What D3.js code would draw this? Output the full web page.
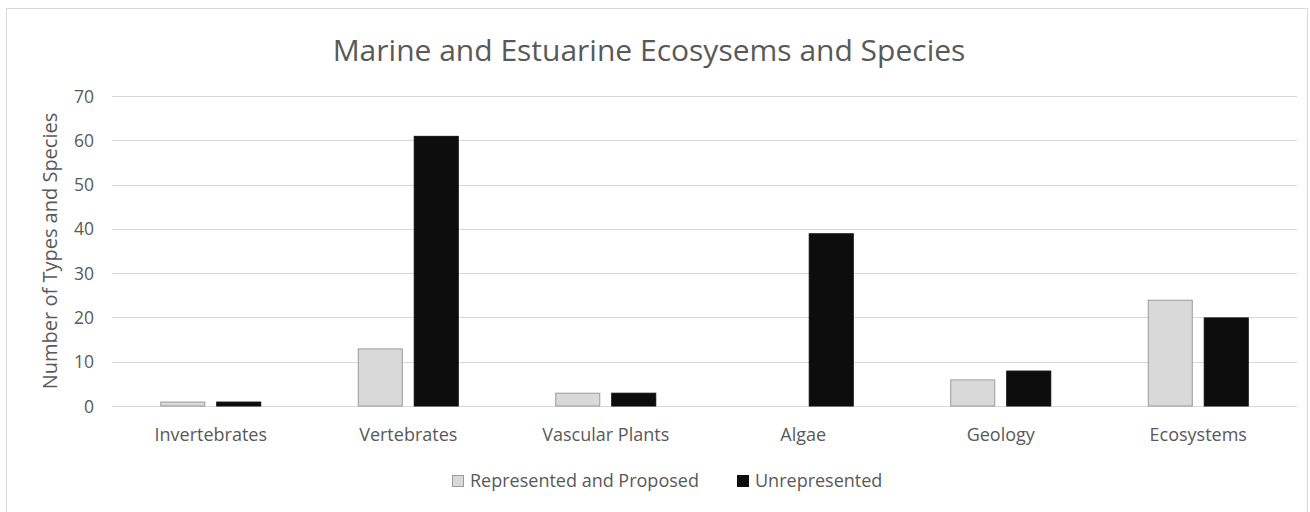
<!DOCTYPE html>
<html>
<head>
<meta charset="utf-8">
<script src="https://cdn.jsdelivr.net/npm/d3@7"></script>
<style>
  html, body { margin: 0; padding: 0; background: #fff; }
  svg { display: block; }
  svg text { font-family: "Open Sans", "Noto Sans", sans-serif; }
</style>
</head>
<body>
<svg id="chart" width="1310" height="512"></svg>
<script>
// Marine and estuarine ecosystems and species counts
const categories = ["Invertebrates", "Vertebrates", "Vascular Plants", "Algae", "Geology", "Ecosystems"];
const seriesNames = ["Represented and Proposed", "Unrepresented"];
const represented = [1, 13, 3, 0, 6, 24];
const unrepresented = [1, 61, 3, 39, 8, 20];
const yTicks = [0, 10, 20, 30, 40, 50, 60, 70];
const seriesColors = ["#d9d9d9", "#0d0d0d"];
const seriesStrokes = ["#9a9a9a", "#0d0d0d"];

const FONT = '"Open Sans", "Noto Sans", sans-serif';
const svg = d3.select("#chart");
const plot = { left: 112, right: 1297, top: 96, bottom: 406 };

// chart frame
svg.append("rect")
  .attr("x", 6.5).attr("y", 8.5)
  .attr("width", 1301).attr("height", 520)
  .attr("fill", "#fff").attr("stroke", "#d9d9d9").attr("stroke-width", 1);

const x0 = d3.scaleBand()
  .domain(categories)
  .range([plot.left, plot.right])
  .paddingInner(0.4886)
  .paddingOuter(0.2443);

const x1 = d3.scaleBand()
  .domain(seriesNames)
  .range([0, x0.bandwidth()])
  .paddingInner(0.196);

const y = d3.scaleLinear().domain([0, 70]).range([plot.bottom, plot.top]);

// gridlines
svg.append("g")
  .selectAll("line")
  .data(yTicks)
  .join("line")
  .attr("x1", plot.left).attr("x2", plot.right)
  .attr("y1", d => Math.round(y(d)) + 0.5)
  .attr("y2", d => Math.round(y(d)) + 0.5)
  .attr("stroke", "#d9d9d9").attr("stroke-width", 1);

// y axis labels
const yAxis = d3.axisLeft(y).tickValues(yTicks).tickSize(0).tickPadding(0);
const yg = svg.append("g").attr("transform", `translate(${plot.left - 18},0)`).call(yAxis);
yg.attr("font-family", FONT).attr("font-size", 17.5);
yg.select(".domain").remove();
yg.selectAll("text")
  .attr("fill", "#595959")
  .attr("dy", "0.35em");

// x axis labels
const xAxis = d3.axisBottom(x0).tickSize(0).tickPadding(0);
const xg = svg.append("g").attr("transform", `translate(0,${plot.bottom + 29})`).call(xAxis);
xg.attr("font-family", FONT).attr("font-size", 18);
xg.select(".domain").remove();
xg.selectAll("text")
  .attr("fill", "#595959")
  .attr("dy", "0.35em")
  .attr("y", 0);

// bars
const rows = categories.map((c, i) => ({
  category: c,
  values: [
    { series: seriesNames[0], value: represented[i], k: 0 },
    { series: seriesNames[1], value: unrepresented[i], k: 1 }
  ]
}));

svg.append("g")
  .selectAll("g")
  .data(rows)
  .join("g")
  .attr("transform", d => `translate(${x0(d.category)},0)`)
  .selectAll("rect")
  .data(d => d.values.filter(v => v.value > 0))
  .join("rect")
  .attr("x", d => x1(d.series) + 0.5)
  .attr("width", x1.bandwidth() - 1)
  .attr("y", d => y(d.value) + 0.5)
  .attr("height", d => y(0) - y(d.value) - 0.5)
  .attr("fill", d => seriesColors[d.k])
  .attr("stroke", d => seriesStrokes[d.k])
  .attr("stroke-width", 1);

// title
svg.append("text")
  .attr("x", 649).attr("y", 50)
  .attr("text-anchor", "middle")
  .attr("dy", "0.35em")
  .attr("fill", "#595959")
  .style("font-size", "30px")
  .text("Marine and Estuarine Ecosysems and Species");

// y axis title
svg.append("text")
  .attr("transform", `translate(50,${(plot.top + plot.bottom) / 2}) rotate(-90)`)
  .attr("text-anchor", "middle")
  .attr("dy", "0.35em")
  .attr("fill", "#595959")
  .style("font-size", "20px")
  .text("Number of Types and Species");

// legend
const legendItems = [
  { name: seriesNames[0], sx: 452, k: 0 },
  { name: seriesNames[1], sx: 737, k: 1 }
];
const lg = svg.append("g");
legendItems.forEach(it => {
  lg.append("rect")
    .attr("x", it.sx + 0.5).attr("y", 475.5)
    .attr("width", 11).attr("height", 11)
    .attr("fill", seriesColors[it.k])
    .attr("stroke", seriesStrokes[it.k]);
  lg.append("text")
    .attr("x", it.sx + 18).attr("y", 481)
    .attr("dy", "0.35em")
    .attr("fill", "#595959")
    .style("font-size", "18px")
    .text(it.name);
});
</script>
</body>
</html>
